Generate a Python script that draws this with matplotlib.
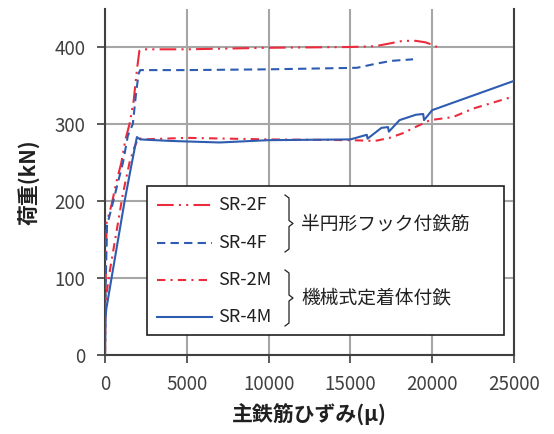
import numpy as np
import matplotlib.pyplot as plt
from matplotlib.patches import Rectangle

plt.rcParams['font.family'] = ['Noto Sans CJK JP', 'DejaVu Sans']

# SR-2F (半円形フック)
x_2f = [0, 30, 100, 400, 700, 1000, 1250, 1500, 1750, 1950, 2100, 2300, 5000, 10000, 15000, 16500, 17500, 18200, 19000, 19600, 20000, 20300]
y_2f = [0, 80, 172, 195, 225, 250, 280, 300, 330, 370, 395, 397, 397, 399, 400, 401, 405, 408, 408, 406, 403, 400]
# SR-4F
x_4f = [0, 40, 120, 450, 800, 1100, 1400, 1700, 1900, 2050, 2150, 5000, 10000, 15400, 16500, 17500, 18830]
y_4f = [0, 90, 168, 195, 225, 250, 285, 300, 340, 365, 370, 370, 371, 373, 378, 382, 384]
# SR-2M (機械式定着体)
x_2m = [0, 20, 60, 300, 700, 1100, 1500, 1800, 2050, 2300, 5000, 10000, 15000, 16500, 17400, 18200, 19070, 19870, 21270, 22500, 25000]
y_2m = [0, 45, 75, 110, 160, 210, 250, 270, 282, 280, 282, 280, 279, 278, 282, 288, 297, 305, 309, 320, 336]
# SR-4M
x_4m = [0, 20, 80, 400, 800, 1200, 1600, 1950, 2150, 4000, 7000, 10000, 15000, 16000, 16050, 16900, 17300, 17350, 18000, 19000, 19450, 19500, 20000, 22500, 25000]
y_4m = [0, 45, 60, 100, 150, 200, 245, 283, 280, 278, 276, 279, 280, 286, 281, 295, 296, 290, 305, 312, 313, 305, 318, 337, 356]

red = '#EC2C3C'
blue = '#2E5CB0'

fig = plt.figure(figsize=(5.54, 4.34), dpi=100)
ax = fig.add_axes([105 / 554, 1 - 355 / 434, 409 / 554, 346.5 / 434])

st_2f = (0, (8, 2.5, 1, 2.5, 1, 2.5))
st_4f = (0, (4, 2.5))
st_2m = (0, (4, 2.5, 1, 2.5))

ax.plot(x_2f, y_2f, color=red, lw=1.5, ls=st_2f, zorder=3)
ax.plot(x_4f, y_4f, color=blue, lw=1.5, ls=st_4f, zorder=3)
ax.plot(x_2m, y_2m, color=red, lw=1.5, ls=st_2m, zorder=3)
ax.plot(x_4m, y_4m, color=blue, lw=1.5, ls='-', zorder=3)

ax.set_xlim(0, 25000)
ax.set_ylim(0, 450)
ax.set_xticks(np.arange(0, 25001, 5000))
ax.set_yticks(np.arange(0, 401, 100))
ax.grid(True, color='#A6A6A6', lw=1.5)
ax.set_axisbelow(True)
for s in ['left', 'bottom', 'right']:
    ax.spines[s].set_color('#404040')
    ax.spines[s].set_linewidth(1.5)
ax.spines['top'].set_visible(False)
ax.tick_params(direction='out', length=6, width=1.2, color='#404040',
               labelsize=13.5, labelcolor='#404040', pad=8)

ax.set_xlabel('主鉄筋ひずみ(μ)', fontsize=15, fontweight='bold', labelpad=6, color='#202020')
ax.set_ylabel('荷重(kN)', fontsize=15, fontweight='bold', labelpad=10, color='#202020')

# legend box drawn by hand
tf = fig.transFigure
def fx(px):
    return px / 554
def fy(py):
    return 1 - py / 434

fig.add_artist(Rectangle((fx(147), fy(335)), fx(504) - fx(147), fy(186) - fy(335),
                         transform=tf, facecolor='white', edgecolor='#202020', lw=1.2, zorder=5))
names = ['SR-2F', 'SR-4F', 'SR-2M', 'SR-4M']
styles = [(red, st_2f), (blue, st_4f), (red, st_2m), (blue, '-')]
rows = [205, 243, 280, 317]
for name, (c, ls), r in zip(names, styles, rows):
    fig.add_artist(plt.Line2D([fx(157), fx(212)], [fy(r), fy(r)], transform=tf,
                              color=c, ls=ls, lw=1.5, zorder=6))
    fig.text(fx(218), fy(r), name, fontsize=13, color='#202020', va='center', ha='left', zorder=6)

# braces
for top, bot in [(195, 252), (270, 326)]:
    mid = (top + bot) / 2
    xs = [285, 289, 289, 293, 289, 289, 285]
    ys = [top, top + 3, mid - 3, mid, mid + 3, bot - 3, bot]
    fig.add_artist(plt.Line2D([fx(v) for v in xs], [fy(v) for v in ys], transform=tf,
                              color='#202020', lw=0.9, zorder=6))
fig.text(fx(301), fy(224), '半円形フック付鉄筋', fontsize=13.5, color='#202020', va='center', ha='left', zorder=6)
fig.text(fx(301), fy(298), '機械式定着体付鉄', fontsize=13.5, color='#202020', va='center', ha='left', zorder=6)

fig.savefig('out.png', dpi=100)
